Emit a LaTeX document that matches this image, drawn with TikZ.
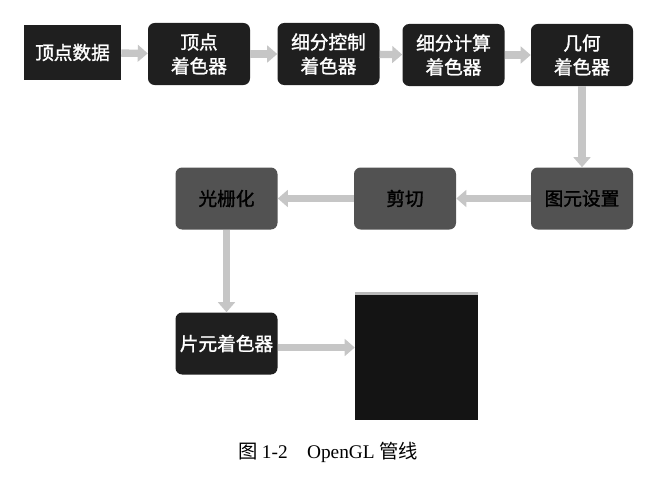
\documentclass[tikz,border=0pt]{standalone}
\usepackage{fontspec}
\setmainfont{Noto Sans CJK SC}
\newfontfamily\boxfont{Noto Sans CJK SC}[FakeBold=1.5]
\newfontfamily\lsfont{Liberation Serif}
\usetikzlibrary{arrows.meta}

\begin{document}
\begin{tikzpicture}[x=0.75pt, y=-0.75pt,
	stufe/.style={rounded corners=5pt, fill=black!88, text=white, align=center,
		minimum width=76.5pt, minimum height=46.5pt, inner sep=0pt,
		font=\boxfont\fontsize{14}{18}\selectfont},
	grau/.style={stufe, fill=black!68, text=black},
	pfeil/.style={draw=gray!45, line width=5.5pt,
		-{Triangle[length=7.5pt, width=12.5pt]}}]
	\useasboundingbox (0,0) rectangle (670,478); % Rand um Grafik
	
	% obere Reihe
	\node[stufe, rounded corners=0pt, minimum width=72.75pt, minimum height=41pt] (daten) at (72.5,52.5) {顶点数据};
	\node[stufe] (vs) at (199,54) {顶点\\着色器};
	\node[stufe] (tcs) at (328.5,54) {细分控制\\着色器};
	\node[stufe] (tes) at (453.5,55) {细分计算\\着色器};
	\node[stufe] (gs) at (582,55) {几何\\着色器};
	
	% mittlere Reihe
	\node[grau] (setup) at (582,198.5) {图元设置};
	\node[grau] (clip) at (405,198.5) {剪切};
	\node[grau] (rast) at (226.5,198.5) {光栅化};
	
	% untere Reihe
	\node[stufe] (frag) at (226.5,343.5) {片元着色器};
	\node[fill=black!92, minimum width=92.25pt, minimum height=96pt, inner sep=0pt] (bild) at (416.5,356) {};
	\fill[gray!55] (bild.north west) rectangle ([yshift=-2.5pt]bild.north east);
	
	% Pfeile
	\draw[pfeil] (daten) -- (vs);
	\draw[pfeil] (vs) -- (tcs);
	\draw[pfeil] (tcs) -- (tes);
	\draw[pfeil] (tes) -- (gs);
	\draw[pfeil] (gs) -- (setup);
	\draw[pfeil] (setup) -- (clip);
	\draw[pfeil] (clip) -- (rast);
	\draw[pfeil] (rast) -- (frag);
	\draw[pfeil] ([yshift=-3pt]frag.east) -- ([yshift=-3pt]frag.east -| bild.west);
	
	\node[font=\fontsize{14.5}{17}\selectfont] (titel) at (328,452) {图 {\lsfont 1-2}\quad {\lsfont OpenGL} 管线};
\end{tikzpicture}
\end{document}
